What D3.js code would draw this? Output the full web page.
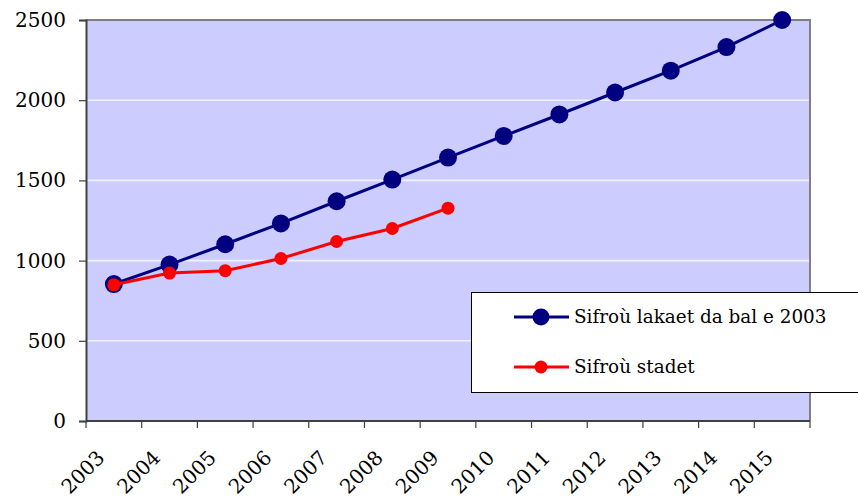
<!DOCTYPE html>
<html><head><meta charset="utf-8">
<script src="https://cdn.jsdelivr.net/npm/d3@7"></script>
<style>
html,body{margin:0;padding:0;background:#fff;}
text{font-family:"DejaVu Serif","Liberation Serif",serif;fill:#000;}
</style></head>
<body>
<script>
const years = ["2003","2004","2005","2006","2007","2008","2009","2010","2011","2012","2013","2014","2015"];
const plannedValues = [854, 975, 1102, 1232, 1370, 1505, 1642, 1777, 1911, 2048, 2184, 2331, 2500];
const actualValues = [849, 922, 937, 1013, 1119, 1200, 1327];
const yTicks = [0, 500, 1000, 1500, 2000, 2500];
const seriesNames = ["Sifroù lakaet da bal e 2003", "Sifroù stadet"];

const W = 858, H = 498;
const svg = d3.select("body").append("svg").attr("width", W).attr("height", H);
const pLeft = 86, pRight = 810, pTop = 20, pBottom = 421;

const x = d3.scaleBand().domain(years).range([pLeft, pRight]).paddingInner(0).paddingOuter(0);
const y = d3.scaleLinear().domain([0, 2500]).range([pBottom, pTop]);

// plot background
svg.append("rect").attr("x", pLeft).attr("y", pTop).attr("width", pRight-pLeft).attr("height", pBottom-pTop).attr("fill", "#CCCCFF");

// gridlines
svg.append("g").selectAll("line").data(yTicks.filter(d => d > 0 && d < 2500)).join("line")
  .attr("x1", pLeft).attr("x2", pRight).attr("y1", d => y(d)).attr("y2", d => y(d))
  .attr("stroke", "#F0F0FF").attr("stroke-width", 1.6);

// top & right border
svg.append("path").attr("d", `M${pLeft},${pTop}H${pRight}V${pBottom}`).attr("fill","none").attr("stroke","#808080").attr("stroke-width",2);

// y axis
const yAxis = d3.axisLeft(y).tickValues(yTicks).tickSize(7).tickFormat(d3.format("d"));
const gy = svg.append("g").attr("transform", `translate(${pLeft},0)`).call(yAxis);
gy.select(".domain").attr("stroke", "#404040").attr("stroke-width", 2);
gy.selectAll(".tick line").attr("stroke", "#404040").attr("stroke-width", 1.2);
gy.selectAll(".tick text").attr("x", -20).attr("font-size", 20).attr("font-family", "DejaVu Serif").attr("fill","#000");

// x axis with ticks at band boundaries
const gx = svg.append("g");
gx.append("line").attr("x1", pLeft).attr("x2", pRight).attr("y1", pBottom).attr("y2", pBottom).attr("stroke","#404040").attr("stroke-width",2);
const bounds = years.map(d => x(d)).concat([pRight]);
gx.selectAll("line.tk").data(bounds).join("line").attr("class","tk")
  .attr("x1", d => d).attr("x2", d => d).attr("y1", pBottom).attr("y2", pBottom + 7)
  .attr("stroke","#404040").attr("stroke-width",1.2);
gx.selectAll("text").data(years).join("text")
  .attr("transform", d => `translate(${x(d) + x.bandwidth()/2 - 8},${pBottom + 38}) rotate(-45)`)
  .attr("text-anchor", "end").attr("font-size", 20).text(d => d);

const cx = d => x(d) + x.bandwidth()/2;
const line = d3.line().x(d => cx(d.year)).y(d => y(d.v));

const planned = years.map((yr, i) => ({year: yr, v: plannedValues[i]}));
const actual = actualValues.map((v, i) => ({year: years[i], v}));

svg.append("path").datum(planned).attr("d", line).attr("fill","none").attr("stroke","#000080").attr("stroke-width",3);
svg.append("g").selectAll("circle").data(planned).join("circle")
  .attr("cx", d => cx(d.year)).attr("cy", d => y(d.v)).attr("r", 9).attr("fill","#000080");

svg.append("path").datum(actual).attr("d", line).attr("fill","none").attr("stroke","#FF0000").attr("stroke-width",3);
svg.append("g").selectAll("circle").data(actual).join("circle")
  .attr("cx", d => cx(d.year)).attr("cy", d => y(d.v)).attr("r", 6.5).attr("fill","#FF0000");

// legend
const lg = svg.append("g");
lg.append("rect").attr("x", 471.5).attr("y", 292.5).attr("width", 400).attr("height", 100)
  .attr("fill","#fff").attr("stroke","#000").attr("stroke-width",1);
const items = [{name: seriesNames[0], color:"#000080", r:8.5, yy:317}, {name: seriesNames[1], color:"#FF0000", r:6.5, yy:367}];
items.forEach(it => {
  lg.append("line").attr("x1",514).attr("x2",569).attr("y1",it.yy).attr("y2",it.yy).attr("stroke",it.color).attr("stroke-width",3);
  lg.append("circle").attr("cx",541).attr("cy",it.yy).attr("r",it.r).attr("fill",it.color);
  lg.append("text").attr("x",574).attr("y",it.yy).attr("dy","0.35em").attr("font-size",18.4).text(it.name);
});
</script>
</body></html>
